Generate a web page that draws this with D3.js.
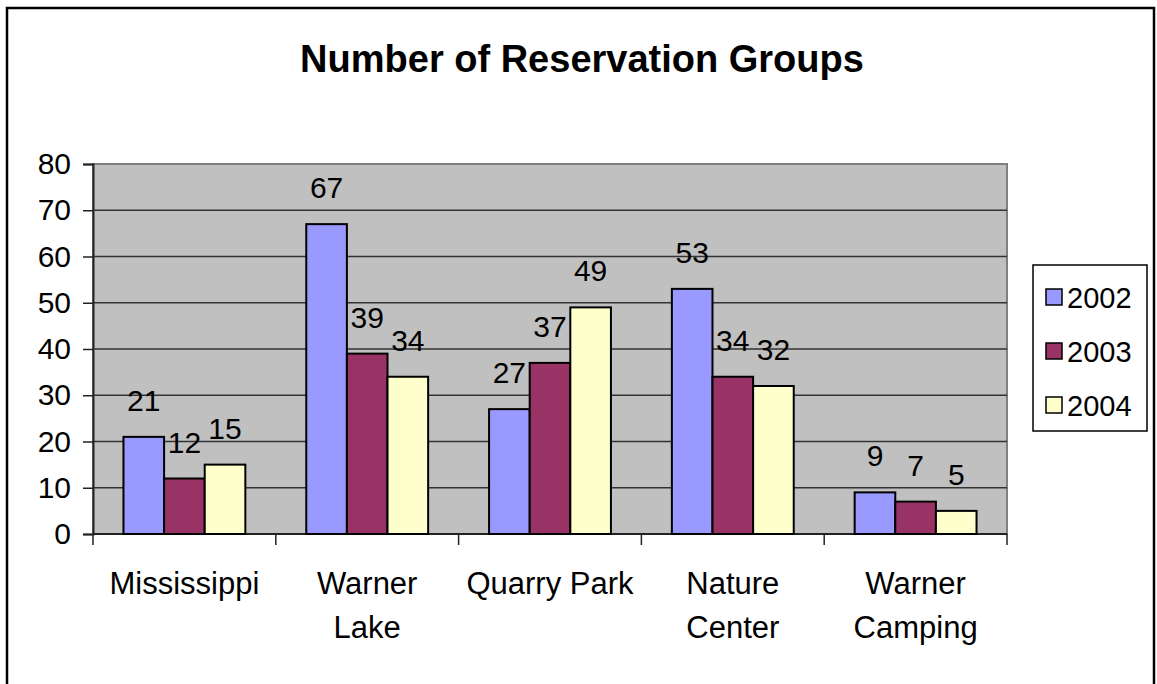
<!DOCTYPE html>
<html>
<head>
<meta charset="utf-8">
<script src="https://cdn.jsdelivr.net/npm/d3@7"></script>
<style>
  body { margin: 0; background: #fff; }
  text { font-family: Arial, "Liberation Sans", sans-serif; fill: #000; }
</style>
</head>
<body>
<div id="chart"></div>
<script>
const categories = ["Mississippi", "Warner\nLake", "Quarry Park", "Nature\nCenter", "Warner\nCamping"];
const years = ["2002", "2003", "2004"];
const values2002 = [21, 67, 27, 53, 9];
const values2003 = [12, 39, 37, 34, 7];
const values2004 = [15, 34, 49, 32, 5];
const yTicks = [0, 10, 20, 30, 40, 50, 60, 70, 80];
const colors = ["#9999FF", "#993366", "#FFFFCC"];

const W = 1157, H = 684;
const plot = {left: 93, top: 164, right: 1007, bottom: 534};

const svg = d3.select("#chart").append("svg")
    .attr("width", W)
    .attr("height", H);

// outer frame
svg.append("rect")
    .attr("x", 7).attr("y", 8)
    .attr("width", 1147).attr("height", 700)
    .attr("fill", "#fff")
    .attr("stroke", "#000")
    .attr("stroke-width", 2.5);

// title
svg.append("text")
    .attr("x", 582)
    .attr("y", 72)
    .attr("text-anchor", "middle")
    .style("font-size", "38px")
    .style("font-weight", "bold")
    .text("Number of Reservation Groups");

const x0 = d3.scaleBand()
    .domain(categories)
    .range([plot.left, plot.right]);

const x1 = d3.scaleBand()
    .domain(years)
    .range([0, x0.bandwidth()])
    .paddingOuter(0.75)
    .paddingInner(0);

const y = d3.scaleLinear()
    .domain([0, 80])
    .range([plot.bottom, plot.top]);

// plot background
svg.append("rect")
    .attr("x", plot.left).attr("y", plot.top)
    .attr("width", plot.right - plot.left)
    .attr("height", plot.bottom - plot.top)
    .attr("fill", "#C0C0C0")
    .attr("stroke", "#808080")
    .attr("stroke-width", 2);

// gridlines
svg.append("g")
    .selectAll("line")
    .data(yTicks.filter(d => d > 0 && d < 80))
    .join("line")
    .attr("x1", plot.left).attr("x2", plot.right)
    .attr("y1", d => y(d)).attr("y2", d => y(d))
    .attr("stroke", "#333")
    .attr("stroke-width", 1.5);

// y axis
const yAxis = svg.append("g")
    .attr("transform", `translate(${plot.left},0)`)
    .call(d3.axisLeft(y).tickValues(yTicks).tickSize(10).tickPadding(12));
yAxis.select(".domain").attr("stroke", "#222").attr("stroke-width", 2);
yAxis.selectAll(".tick line").attr("stroke", "#222").attr("stroke-width", 1.5);
yAxis.selectAll(".tick text")
    .style("font-size", "30px")
    .style("font-family", "Arial, 'Liberation Sans', sans-serif")
    .attr("fill", "#000");

// x axis
const xAxis = svg.append("g")
    .attr("transform", `translate(0,${plot.bottom})`);
xAxis.append("line")
    .attr("x1", plot.left).attr("x2", plot.right)
    .attr("stroke", "#222").attr("stroke-width", 2);
const bounds = categories.map(c => x0(c)).concat([plot.right]);
xAxis.selectAll("line.tk")
    .data(bounds)
    .join("line")
    .attr("class", "tk")
    .attr("x1", d => d).attr("x2", d => d)
    .attr("y1", 0).attr("y2", 11)
    .attr("stroke", "#222").attr("stroke-width", 1.5);

// category labels
categories.forEach(c => {
    const lines = c.split("\n");
    const t = svg.append("text")
        .attr("x", x0(c) + x0.bandwidth() / 2)
        .attr("y", 594)
        .attr("text-anchor", "middle")
        .style("font-size", "31px");
    lines.forEach((l, i) => {
        t.append("tspan")
            .attr("x", x0(c) + x0.bandwidth() / 2)
            .attr("dy", i === 0 ? 0 : 44)
            .text(l);
    });
});

// bars
const series = [values2002, values2003, values2004];
const rows = [];
categories.forEach((c, i) => {
    years.forEach((yr, j) => {
        rows.push({cat: c, year: yr, value: series[j][i], color: colors[j]});
    });
});

svg.append("g")
    .selectAll("rect")
    .data(rows)
    .join("rect")
    .attr("x", d => x0(d.cat) + x1(d.year))
    .attr("y", d => y(d.value))
    .attr("width", x1.bandwidth())
    .attr("height", d => y(0) - y(d.value))
    .attr("fill", d => d.color)
    .attr("stroke", "#000")
    .attr("stroke-width", 2);

// value labels
svg.append("g")
    .selectAll("text")
    .data(rows)
    .join("text")
    .attr("x", d => x0(d.cat) + x1(d.year) + x1.bandwidth() / 2)
    .attr("y", d => y(d.value) - 26)
    .attr("text-anchor", "middle")
    .style("font-size", "30px")
    .text(d => d.value);

// legend
const legend = svg.append("g");
legend.append("rect")
    .attr("x", 1033).attr("y", 265)
    .attr("width", 114).attr("height", 166)
    .attr("fill", "#fff")
    .attr("stroke", "#000")
    .attr("stroke-width", 1.5);

const ly = d3.scalePoint()
    .domain(years)
    .range([297, 405]);

years.forEach((yr, j) => {
    legend.append("rect")
        .attr("x", 1046).attr("y", ly(yr) - 8)
        .attr("width", 16).attr("height", 16)
        .attr("fill", colors[j])
        .attr("stroke", "#000")
        .attr("stroke-width", 1.5);
    legend.append("text")
        .attr("x", 1067).attr("y", ly(yr) + 11)
        .style("font-size", "29px")
        .text(yr);
});
</script>
</body>
</html>
